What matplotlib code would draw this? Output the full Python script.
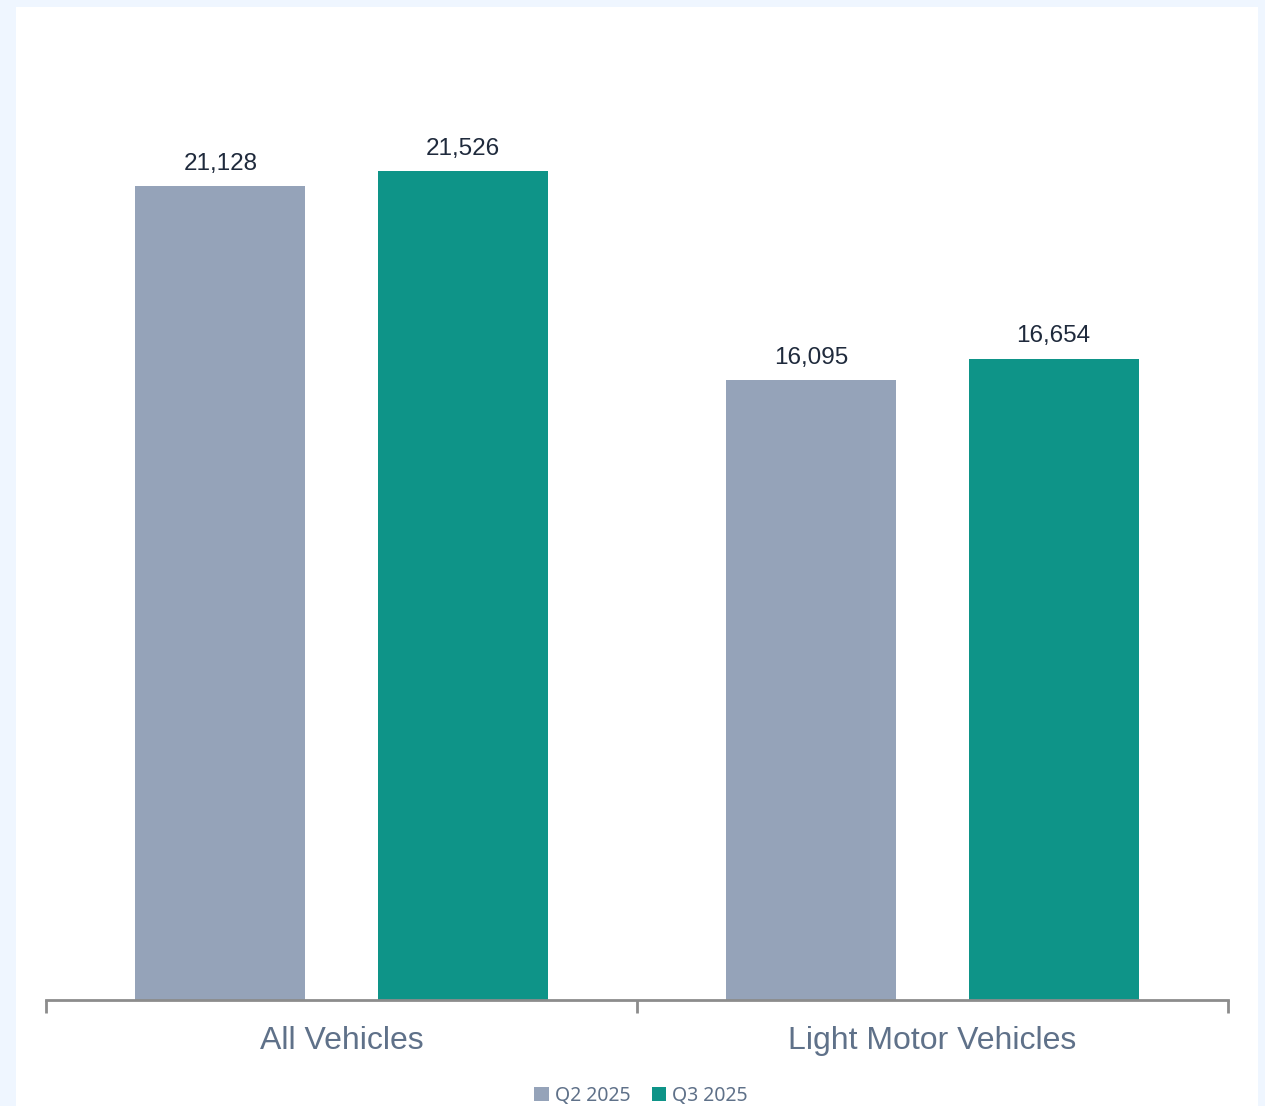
import matplotlib.pyplot as plt
from matplotlib.patches import Rectangle
import numpy as np

# data
categories = ['All Vehicles', 'Light Motor Vehicles']
series_names = ['Q2 2025', 'Q3 2025']
q2_values = [21128, 16095]
q3_values = [21526, 16654]

colors = ['#95A3B9', '#0E9488']
W, H = 1265, 1106

fig = plt.figure(figsize=(W / 100, H / 100), dpi=100, facecolor='#EFF6FF')
# white card behind everything
fig.patches.append(Rectangle((16 / W, 0), (1258 - 16) / W, (H - 7) / H,
                             transform=fig.transFigure, facecolor='white',
                             edgecolor='none', zorder=-10))

ax = fig.add_axes([46 / W, 106 / H, 1182 / W, (1000 - 37.3) / H])
ax.set_facecolor('none')
ax.set_zorder(5)

x = np.arange(len(categories))
bw = 0.288
off = 0.205
for vals, name, c, d in zip([q2_values, q3_values], series_names, colors, [-off, off]):
    bars = ax.bar(x + d, vals, width=bw, color=c, label=name, zorder=2)
    for b, v in zip(bars, vals):
        ax.text(b.get_x() + b.get_width() / 2, v + 300, f'{v:,}', ha='center', va='bottom',
                fontsize=17.5, color='#1F2A3C', family='Liberation Sans')

ax.set_xlim(-0.5, len(categories) - 0.5)
ax.set_ylim(0, 25000)

for s in ['top', 'right', 'left']:
    ax.spines[s].set_visible(False)
ax.spines['bottom'].set_color('#8C8C8C')
ax.spines['bottom'].set_linewidth(2)
ax.set_yticks([])

ax.set_xticks(np.arange(-0.5, len(categories), 1.0))
ax.set_xticklabels([])
ax.tick_params(axis='x', which='major', length=9, width=2, color='#8C8C8C', direction='out')
ax.set_xticks(x, minor=True)
ax.set_xticklabels(categories, minor=True, fontsize=23, color='#5F7189', family='Liberation Sans')
ax.tick_params(axis='x', which='minor', length=0, pad=19)

leg = fig.legend(loc='center', bbox_to_anchor=(641 / W, 1 - 1096 / H), ncol=2, frameon=False,
                 handlelength=0.75, handleheight=0.75, handletextpad=0.3, columnspacing=1.1,
                 prop={'family': 'Noto Sans', 'size': 14})
leg.set_zorder(6)
for t in leg.get_texts():
    t.set_color('#5F7189')

fig.savefig('out.png', dpi=100, facecolor=fig.get_facecolor())
